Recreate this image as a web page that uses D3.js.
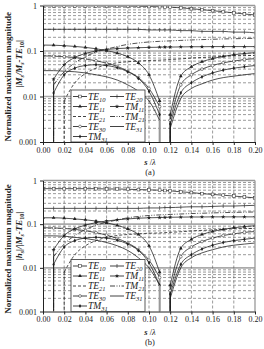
<!DOCTYPE html>
<html>
<head>
<meta charset="utf-8">
<script src="https://cdn.jsdelivr.net/npm/d3@7"></script>
<style>
body { margin: 0; background: #fff; }
text { font-family: "Liberation Serif", "Times New Roman", serif; fill: #222; }
</style>
</head>
<body>
<div id="chart"></div>
<script>
// s / lambda sample points (0.115 sits in the cut-off gap)
var sVals = [0.00, 0.01, 0.02, 0.03, 0.04, 0.05, 0.06, 0.07, 0.08, 0.09, 0.10,
             0.11, 0.115, 0.12, 0.13, 0.14, 0.15, 0.16, 0.17, 0.18, 0.19, 0.20];
var xTicks = [0.00, 0.02, 0.04, 0.06, 0.08, 0.10, 0.12, 0.14, 0.16, 0.18, 0.20];
var yTicks = [1, 0.1, 0.01, 0.001];
var yTickLabels = ["1", "0.1", "0.01", "0.001"];

var modeNames = ["TE10", "TE11", "TE21", "TE30", "TM31", "TE20", "TM11", "TM21", "TE31"];

// panel (a) values, one list per mode (null = no curve there)
var aTE10 = [0.98, 0.98, 0.98, 0.98, 0.98, 0.98, 0.97, 0.97, 0.97, 0.96, 0.95, 0.94, 0.93, 0.92, 0.89, 0.85, 0.81, 0.77, 0.73, 0.69, 0.65, 0.62];
var aTE11 = [0.135, 0.134, 0.131, 0.126, 0.12, 0.112, 0.102, 0.09, 0.075, 0.055, 0.03, 0.008, null, 0.004, 0.028, 0.045, 0.058, 0.068, 0.076, 0.083, 0.088, 0.092];
var aTE21 = [null, null, 0.008, 0.02, 0.032, 0.042, 0.05, 0.055, 0.058, 0.06, 0.062, 0.063, 0.064, 0.065, 0.067, 0.07, 0.072, 0.074, 0.076, 0.078, 0.079, 0.08];
var aTE30 = [0.078, 0.077, 0.075, 0.072, 0.067, 0.061, 0.054, 0.046, 0.036, 0.026, 0.015, 0.006, null, 0.003, 0.018, 0.03, 0.04, 0.048, 0.055, 0.06, 0.065, 0.068];
var aTM31 = [null, 0.012, 0.03, 0.042, 0.048, 0.05, 0.048, 0.043, 0.035, 0.025, 0.013, 0.004, null, 0.0025, 0.012, 0.02, 0.027, 0.033, 0.038, 0.042, 0.045, 0.048];
var aTE20 = [0.30, 0.30, 0.30, 0.30, 0.30, 0.30, 0.30, 0.30, 0.30, 0.30, 0.29, 0.29, 0.29, 0.29, 0.28, 0.28, 0.27, 0.27, 0.27, 0.26, 0.26, 0.25];
var aTM11 = [null, 0.024, 0.05, 0.072, 0.088, 0.1, 0.108, 0.113, 0.116, 0.118, 0.12, 0.121, 0.122, 0.122, 0.123, 0.124, 0.124, 0.125, 0.125, 0.125, 0.125, 0.125];
var aTM21 = [null, 0.018, 0.035, 0.055, 0.075, 0.095, 0.11, 0.125, 0.14, 0.15, 0.158, 0.163, 0.165, 0.167, 0.171, 0.175, 0.178, 0.181, 0.184, 0.186, 0.188, 0.19];
var aTE31 = [0.037, 0.037, 0.036, 0.035, 0.033, 0.03, 0.027, 0.023, 0.018, 0.013, 0.008, 0.003, null, 0.002, 0.009, 0.015, 0.019, 0.023, 0.026, 0.028, 0.03, 0.032];

// panel (b) values
var bTE10 = [0.65, 0.65, 0.65, 0.65, 0.65, 0.65, 0.64, 0.64, 0.63, 0.62, 0.61, 0.60, 0.59, 0.58, 0.55, 0.53, 0.50, 0.48, 0.46, 0.44, 0.42, 0.40];
var bTE11 = [0.14, 0.14, 0.137, 0.132, 0.126, 0.118, 0.107, 0.094, 0.078, 0.058, 0.032, 0.008, null, 0.004, 0.028, 0.045, 0.058, 0.068, 0.076, 0.083, 0.088, 0.092];
var bTE21 = [null, null, 0.008, 0.02, 0.032, 0.042, 0.05, 0.055, 0.058, 0.06, 0.062, 0.063, 0.064, 0.065, 0.067, 0.07, 0.072, 0.074, 0.076, 0.078, 0.079, 0.08];
var bTE30 = [0.083, 0.082, 0.08, 0.076, 0.071, 0.064, 0.056, 0.047, 0.037, 0.026, 0.015, 0.006, null, 0.003, 0.018, 0.03, 0.04, 0.048, 0.055, 0.06, 0.065, 0.068];
var bTM31 = [null, 0.012, 0.03, 0.042, 0.048, 0.05, 0.048, 0.043, 0.035, 0.025, 0.013, 0.004, null, 0.0025, 0.012, 0.02, 0.027, 0.033, 0.038, 0.042, 0.045, 0.048];
var bTE20 = [0.23, 0.23, 0.23, 0.23, 0.23, 0.23, 0.23, 0.23, 0.23, 0.23, 0.235, 0.235, 0.24, 0.24, 0.245, 0.25, 0.25, 0.255, 0.26, 0.26, 0.265, 0.27];
var bTM11 = [null, 0.026, 0.055, 0.078, 0.095, 0.108, 0.118, 0.126, 0.132, 0.137, 0.14, 0.142, 0.143, 0.144, 0.145, 0.146, 0.146, 0.147, 0.147, 0.147, 0.147, 0.147];
var bTM21 = [null, 0.018, 0.035, 0.055, 0.075, 0.095, 0.11, 0.125, 0.14, 0.15, 0.158, 0.163, 0.165, 0.167, 0.171, 0.175, 0.178, 0.181, 0.184, 0.186, 0.188, 0.19];
var bTE31 = [0.054, 0.054, 0.053, 0.05, 0.047, 0.043, 0.038, 0.032, 0.025, 0.017, 0.01, 0.004, null, 0.002, 0.01, 0.017, 0.022, 0.026, 0.03, 0.033, 0.035, 0.037];

// how each mode is drawn
var modeStyle = {
  TE10: {dash: null, marker: "square"},
  TE11: {dash: null, marker: "triangle"},
  TE21: {dash: "3,2", marker: null},
  TE30: {dash: null, marker: "circle"},
  TM31: {dash: null, marker: "diamond"},
  TE20: {dash: null, marker: "plus"},
  TM11: {dash: null, marker: "star"},
  TM21: {dash: "5,1.5,1,1.5,1,1.5", marker: null},
  TE31: {dash: null, marker: null}
};

var W = 264, H = 349;
var svg = d3.select("#chart").append("svg")
  .attr("width", W).attr("height", H);

function drawPanel(opt) {
  var x = d3.scaleLinear().domain([0, 0.2]).range([43, 255]);
  var y = d3.scaleLog().domain([0.001, 1]).range([opt.bottom, opt.top]);
  var g = svg.append("g");

  var clipId = "clip" + opt.id;
  g.append("clipPath").attr("id", clipId)
    .append("rect").attr("x", 43).attr("y", opt.top)
    .attr("width", 212).attr("height", opt.bottom - opt.top);

  // horizontal minor grid
  var minor = [];
  [0.001, 0.01, 0.1].forEach(function(d) {
    for (var k = 2; k <= 9; k++) minor.push(d * k);
  });
  g.selectAll(".hg").data(minor).enter().append("line")
    .attr("x1", 43).attr("x2", 255)
    .attr("y1", d => y(d)).attr("y2", d => y(d))
    .attr("stroke", "#555").attr("stroke-width", 0.6)
    .attr("stroke-dasharray", "3,2");
  g.selectAll(".hm").data([0.01, 0.1]).enter().append("line")
    .attr("x1", 43).attr("x2", 255)
    .attr("y1", d => y(d)).attr("y2", d => y(d))
    .attr("stroke", "#aaa").attr("stroke-width", 1.6);
  g.selectAll(".vg").data(xTicks.slice(1, -1)).enter().append("line")
    .attr("y1", opt.top).attr("y2", opt.bottom)
    .attr("x1", d => x(d)).attr("x2", d => x(d))
    .attr("stroke", "#555").attr("stroke-width", 0.6)
    .attr("stroke-dasharray", "3,2");

  // curves
  var cg = g.append("g").attr("clip-path", "url(#" + clipId + ")");
  var line = d3.line()
    .defined(d => d.v != null)
    .x(d => x(d.s)).y(d => y(d.v))
    .curve(d3.curveMonotoneX);

  modeNames.forEach(function(m) {
    var pts = sVals.map((s, i) => ({s: s, v: opt.series[m][i]}));
    var st = modeStyle[m];
    cg.append("path").datum(pts)
      .attr("d", line)
      .attr("fill", "none").attr("stroke", "#1a1a1a")
      .attr("stroke-width", 0.75)
      .attr("stroke-dasharray", st.dash);
    // where a curve starts or stops at a cut-off it plunges to the bottom
    pts.forEach(function(d, i) {
      if (d.v == null) return;
      var prevGap = i > 0 && pts[i - 1].v == null;
      var nextGap = i < pts.length - 1 && pts[i + 1].v == null;
      if (prevGap || nextGap) {
        var grey = nextGap && d.s > 0.1;
        cg.append("line").attr("x1", x(d.s)).attr("x2", x(d.s))
          .attr("y1", y(d.v)).attr("y2", opt.bottom)
          .attr("stroke", grey ? "#999" : "#1a1a1a")
          .attr("stroke-width", grey ? 1.4 : 0.8)
          .attr("stroke-dasharray", st.dash);
      }
    });
    if (st.marker) {
      pts.filter(d => d.v != null && d.v > 0.001).forEach(function(d) {
        drawMarker(cg, st.marker, x(d.s), y(d.v));
      });
    }
  });

  // frame and axes
  g.append("line").attr("x1", 255).attr("x2", 255).attr("y1", opt.top).attr("y2", opt.bottom)
    .attr("stroke", "#999").attr("stroke-width", 1.3);
  g.append("line").attr("x1", 43).attr("x2", 255).attr("y1", opt.top).attr("y2", opt.top)
    .attr("stroke", "#999").attr("stroke-width", 1.3);

  var xAxis = d3.axisBottom(x).tickValues(xTicks).tickFormat(d3.format(".2f"))
    .tickSize(3).tickSizeOuter(0);
  var xa = g.append("g").attr("transform", "translate(0," + opt.bottom + ")").call(xAxis);
  xa.selectAll("text").attr("font-size", 8).attr("dy", "0.6em")
    .attr("fill", "#222").attr("font-family", "Liberation Serif");
  var yAxis = d3.axisLeft(y).tickValues(yTicks)
    .tickFormat((d, i) => yTickLabels[i]).tickSize(3).tickSizeOuter(0);
  var ya = g.append("g").attr("transform", "translate(43,0)").call(yAxis);
  ya.selectAll("text").attr("font-size", 8).attr("fill", "#222")
    .attr("font-family", "Liberation Serif");
  [xa, ya].forEach(function(a) {
    a.select(".domain").attr("stroke", "#222");
    a.selectAll(".tick line").attr("stroke", "#222");
  });

  // legend
  var lx = 71, ly = opt.bottom - 52;
  g.append("rect").attr("x", lx).attr("y", ly).attr("width", 74).attr("height", 52)
    .attr("fill", "#fff").attr("stroke", "#333").attr("stroke-width", 0.8);
  var cols = [modeNames.slice(0, 5), modeNames.slice(5)];
  cols.forEach(function(col, c) {
    col.forEach(function(m, r) {
      var ox = lx + 2 + c * 37, oy = ly + 6.5 + r * 10;
      var st = modeStyle[m];
      g.append("line").attr("x1", ox).attr("x2", ox + 14)
        .attr("y1", oy).attr("y2", oy)
        .attr("stroke", "#111").attr("stroke-width", 0.8)
        .attr("stroke-dasharray", st.dash);
      if (st.marker) drawMarker(g, st.marker, ox + 7, oy);
      var t = g.append("text").attr("x", ox + 15).attr("y", oy + 3)
        .attr("font-size", 9.5).attr("font-style", "italic");
      t.append("tspan").text(m.slice(0, 2));
      t.append("tspan").attr("dy", 2).attr("font-size", 6.5).text(m.slice(2));
    });
  });

  // labels
  var cy = (opt.top + opt.bottom) / 2;
  g.append("text").attr("transform", "translate(11," + (cy + 3) + ") rotate(-90)")
    .attr("text-anchor", "middle").attr("font-size", 9).attr("font-weight", "bold")
    .text("Normalized maximum magnitude");
  var yl = g.append("text").attr("transform", "translate(22," + (cy - 10) + ") rotate(-90)")
    .attr("text-anchor", "middle").attr("font-size", 9).attr("font-weight", "bold");
  opt.ylab.forEach(function(p) {
    yl.append("tspan").attr("dy", p[1]).attr("font-size", p[2])
      .attr("font-style", p[3] ? "italic" : null).text(p[0]);
  });
  var xl = g.append("text").attr("x", 150).attr("y", opt.bottom + 23)
    .attr("text-anchor", "middle").attr("font-size", 8.5);
  xl.append("tspan").attr("font-style", "italic").attr("font-weight", "bold").text("s");
  xl.append("tspan").text(" /");
  xl.append("tspan").attr("font-style", "italic").text("\u03bb");
  g.append("text").attr("x", 150).attr("y", opt.bottom + 33)
    .attr("text-anchor", "middle").attr("font-size", 8.5).text(opt.tag);
}

function drawMarker(g, kind, cx, cy) {
  var r = 1.4;
  if (kind == "square") {
    g.append("rect").attr("x", cx - r).attr("y", cy - r).attr("width", 2 * r).attr("height", 2 * r)
      .attr("fill", "#fff").attr("stroke", "#222").attr("stroke-width", 0.5);
  } else if (kind == "circle") {
    g.append("circle").attr("cx", cx).attr("cy", cy).attr("r", r)
      .attr("fill", "#fff").attr("stroke", "#222").attr("stroke-width", 0.5);
  } else if (kind == "triangle") {
    g.append("path").attr("d", d3.symbol(d3.symbolTriangle, 6)())
      .attr("transform", "translate(" + cx + "," + cy + ")").attr("fill", "#222");
  } else if (kind == "plus") {
    g.append("line").attr("x1", cx).attr("x2", cx).attr("y1", cy - 2).attr("y2", cy + 2)
      .attr("stroke", "#222").attr("stroke-width", 0.6);
  } else if (kind == "star") {
    g.append("path").attr("d", d3.symbol(d3.symbolStar, 6)())
      .attr("transform", "translate(" + cx + "," + cy + ")").attr("fill", "#222");
  } else if (kind == "diamond") {
    g.append("path").attr("d", d3.symbol(d3.symbolDiamond, 5)())
      .attr("transform", "translate(" + cx + "," + cy + ")").attr("fill", "#222");
  }
}

function pack(arrs) {
  var o = {};
  modeNames.forEach((m, i) => o[m] = arrs[i]);
  return o;
}

drawPanel({
  id: "a", tag: "(a)", top: 5.5, bottom: 142,
  series: pack([aTE10, aTE11, aTE21, aTE30, aTM31, aTE20, aTM11, aTM21, aTE31]),
  ylab: [["|", 0, 9, false], ["M", 0, 9, true], ["s", 2, 6, true], ["/M", -2, 9, true],
         ["s", 2, 6, true], ["-TE", -2, 9, true], ["10", 2, 6, false], ["|", -2, 9, false]]
});
drawPanel({
  id: "b", tag: "(b)", top: 180.5, bottom: 311.5,
  series: pack([bTE10, bTE11, bTE21, bTE30, bTM31, bTE20, bTM11, bTM21, bTE31]),
  ylab: [["|", 0, 9, false], ["h", 0, 9, true], ["s", 2, 6, true], ["|/|M", -2, 9, true],
         ["s", 2, 6, true], ["-TE", -2, 9, true], ["10", 2, 6, false], ["|", -2, 9, false]]
});
</script>
</body>
</html>
